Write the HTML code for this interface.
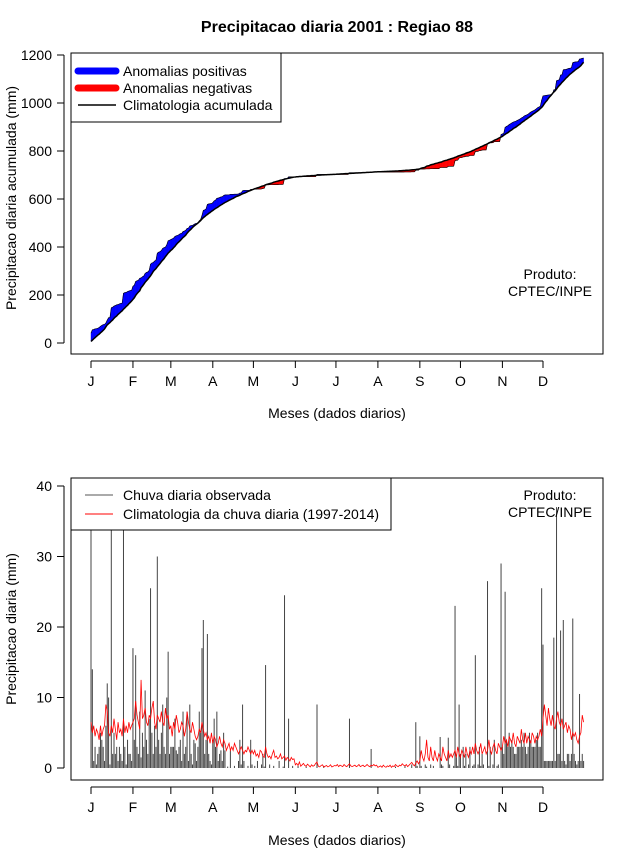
<!DOCTYPE html>
<html><head><meta charset="utf-8"><style>
html,body{margin:0;padding:0;background:#fff;}
svg{display:block;font-family:"Liberation Sans",Arial,sans-serif;}
</style></head><body>
<svg id="svg" width="640" height="850" viewBox="0 0 640 850" xmlns="http://www.w3.org/2000/svg">
<defs>
<clipPath id="clipTop"><rect x="71" y="53" width="532" height="301"/></clipPath>
<clipPath id="clipBot"><rect x="71" y="478" width="532" height="302"/></clipPath>
</defs>
<text x="337" y="32" text-anchor="middle" font-size="16" font-weight="bold">Precipitacao diaria 2001 : Regiao 88</text>

<g id="top">
<rect x="71" y="53" width="532" height="301" fill="none" stroke="#000"/>
<g id="topMarks" clip-path="url(#clipTop)"></g>
<g id="topYAxis"></g>
<g id="topXAxis"></g>
<text x="337" y="418" text-anchor="middle" font-size="14">Meses (dados diarios)</text>
<text transform="translate(16,198) rotate(-90)" text-anchor="middle" font-size="14">Precipitacao diaria acumulada (mm)</text>
<g>
<rect x="71" y="53" width="210" height="69" fill="#fff" stroke="#000"/>
<line x1="78" y1="71" x2="116" y2="71" stroke="#0000ff" stroke-width="7" stroke-linecap="round"/>
<text x="123" y="76" font-size="14">Anomalias positivas</text>
<line x1="78" y1="88" x2="116" y2="88" stroke="#ff0000" stroke-width="7" stroke-linecap="round"/>
<text x="123" y="93" font-size="14">Anomalias negativas</text>
<line x1="78" y1="105" x2="116" y2="105" stroke="#000" stroke-width="1.5"/>
<text x="123" y="110" font-size="14">Climatologia acumulada</text>
</g>
<text x="550" y="279" text-anchor="middle" font-size="14">Produto:</text>
<text x="550" y="296" text-anchor="middle" font-size="14">CPTEC/INPE</text>
</g>

<g id="bot">
<g id="botMarks" clip-path="url(#clipBot)"></g>
<rect x="71" y="478" width="532" height="302" fill="none" stroke="#000"/>
<g id="botYAxis"></g>
<g id="botXAxis"></g>
<text x="337" y="845" text-anchor="middle" font-size="14">Meses (dados diarios)</text>
<text transform="translate(16,629) rotate(-90)" text-anchor="middle" font-size="14">Precipitacao diaria (mm)</text>
<g>
<rect x="71" y="478" width="320" height="52" fill="#fff" stroke="#000"/>
<line x1="85" y1="495" x2="113" y2="495" stroke="#555" stroke-width="1"/>
<text x="123" y="500" font-size="14">Chuva diaria observada</text>
<line x1="85" y1="514" x2="113" y2="514" stroke="#ff0000" stroke-width="1"/>
<text x="123" y="519" font-size="14">Climatologia da chuva diaria (1997-2014)</text>
</g>
<text x="550" y="500" text-anchor="middle" font-size="14">Produto:</text>
<text x="550" y="517" text-anchor="middle" font-size="14">CPTEC/INPE</text>
</g>
</svg>
<script>
const monthLabels = ["J","F","M","A","M","J","J","A","S","O","N","D"];
const monthStartDays = [1,32,60,91,121,152,182,213,244,274,305,335];
const topYTicks = [0,200,400,600,800,1000,1200];
const botYTicks = [0,10,20,30,40];

const obsJan = [41,14,1,3,0.5,2,3,5,4,3,1,6,12,10,0.5,41,2,5,2,3,1,3,2,1,41,3,0.5,4,2,2,1];
const obsFeb = [17,4,16,3,2,8,1.5,5,3,11,4,2,7,25.5,5,2,6,3,30,4,2,5,9,3,2,10,16.5,2];
const obsMar = [3,3,3,7,2.5,2,3,4,1,8,2,3,8,1,9,2,0.5,4,3.5,1,3,8,5,17,21,2,4,19,2,1,0.5];
const obsApr = [4,7,3,8,1,2,2.5,1,5,2.5,0,0.2,0,2.5,0,0,0.3,0,0,1,4,0.5,9,1,0,0,0.3,0,4,0.5];
const obsMay = [0,0.3,0,1,0,0,0.5,2,0.2,14.6,0,0,0.5,0,0,0.3,0,0,0,1,0,0,0.2,24.5,0,0,7,0,0,0.3,0];
const obsJun = [0,0,0.3,0,0,0,0,0,0.2,0,0,0,0,0,0,0,9,0,0,0,0,0.3,0,0,0,0,0,0,0,0];
const obsJul = [0,0,0,0,0,0,0,0,0,0,7,0,0,0,0,0,0,0,0,0,0,0,0,0,0,0,2.7,0,0,0,0];
const obsAug = [0,0,0,0,0,0,0,0,0,0,0,0,0,0.2,0,0,0,0,0,0,0.3,0,0,0,0,0.5,0,0,6.5,0.3,0];
const obsSep = [4.5,0.3,0,0,0.5,0.2,0,0,0.5,0,0.3,0,0,0,0,4.4,0.5,0.3,0,0,0,4.3,0.5,0,0,0.3,23,1.5,0.3,9];
const obsOct = [2,0,3,0.3,2,0,0.5,3,0,0.3,0.5,16,0,0.5,3,0.3,2,0.5,0,0,26.5,0.3,3,0,0.5,4,0,0.3,0.5,0,29];
const obsNov = [3,2,25,4,3,5,3,4,3,2,2,3,3,3,4,3,5,3,2,3,5,4,3,3,3,4,5,3,3,25.5];
const obsDec = [17.5,1,1,1,1,1,1,1,18.5,1,37,2,2,19.5,1,21,1,0.5,2,2,1,2,21.2,2,1,0.5,1,10.5,1,2,1];

const climJan = [6.5,5,6,4.5,5.5,5,4,6,4.5,5.5,6,9,8,5,4.5,6,5,7,5.5,4,6.5,5,5.5,4.5,7,5,6,5,6.5,5.5,6];
const climFeb = [6.5,7,9.5,7.5,6.5,5.5,12.5,7,7.5,8.5,6.5,6,7.5,7,8.5,9.5,6.5,5.5,7.5,7,6.5,8,6.5,6,8.5,7,7.5,5.5];
const climMar = [6,4.5,6.5,5.5,7.5,6.5,5,5.5,6.5,6,4.5,5.5,8,6.5,5.5,5,6.5,5.5,4.5,4,4.5,5.5,5,6.5,5.5,4.5,5,4,4.5,3.5,5];
const climApr = [3.5,4.5,4,3,3.5,4.5,3.5,3,4,3.5,2.5,3,3.5,2.5,3,2.5,3.5,3,2.5,2,2.5,3,2.5,2,2.5,2.3,3,2.5,2,2.5];
const climMay = [2,2.5,1.7,2,1.5,2.5,2.3,1.7,1.5,3,2,1.5,1.7,1.3,2,2.5,1.5,1.7,1.3,1.5,2,1.3,1.5,1.7,1.1,1.5,1.3,1,1.5,1.2,1.3];
const climJun = [0.45,0.65,0.35,0.85,0.25,0.45,0.65,0.35,0.25,0.55,0.35,0.15,0.45,0.25,0.35,0.65,0.85,0.25,0.15,0.35,0.45,0.15,0.25,0.35,0.15,0.25,0.45,0.15,0.25,0.35];
const climJul = [0.3,0.5,0.2,0.4,0.3,0.2,0.5,0.3,0.2,0.4,0.6,0.3,0.2,0.3,0.4,0.2,0.3,0.5,0.2,0.3,0.4,0.2,0.3,0.5,0.3,0.2,0.4,0.3,0.5,0.3,0.4];
const climAug = [0.1,0.2,0.3,0.1,0.4,0.2,0.1,0.3,0.2,0.4,0.1,0.3,0.2,0.5,0.3,0.2,0.4,0.3,0.6,0.4,0.3,0.5,0.2,0.4,0.6,0.8,0.5,0.3,0.7,1,0.6];
const climSep = [1,2.5,1.5,1,2,4,1.5,1,3,1.5,1,2.5,1.5,1,2,1.5,1,3,2,1.5,1,2.5,1.5,2,1.5,2,2.5,1.5,3,2];
const climOct = [1.5,2.5,2,1.5,3,2,1.5,2.5,2,3,2,3.5,2.5,2,2.5,3.5,2,2.5,3,2,2.5,4,2.5,2,3,3.5,2.5,2,3.5,3,2.5];
const climNov = [3,4.5,3.5,4,3,4.5,4,3.5,5,3.5,3,4.5,4,3.5,5.5,4,3.5,5,3.5,4.5,4,3.5,5,4.5,3.5,4.5,4,4.5,5.5,4.5];
const climDec = [7,9,7.5,6,8.5,7,6,7.5,6,5.5,7,8,6.5,6,7,5.5,6,6.5,5,6,5.5,4,5,4.5,5,4,3.5,4.5,5,7.5,6.5];

const obs = [].concat(obsJan,obsFeb,obsMar,obsApr,obsMay,obsJun,obsJul,obsAug,obsSep,obsOct,obsNov,obsDec);
const clim = [].concat(climJan,climFeb,climMar,climApr,climMay,climJun,climJul,climAug,climSep,climOct,climNov,climDec);

const NS = "http://www.w3.org/2000/svg";
function mk(tag, attrs, parent){const e=document.createElementNS(NS,tag);for(const k in attrs)e.setAttribute(k,attrs[k]);parent.appendChild(e);return e;}
function xDay(d){return 91 + (d-1)*(543-91)/334;}
function yTop(v){return 343 - v*(343-55)/1200;}
function yBot(v){return 768 - v*(768-486)/40;}

const cumObs=[], cumClim=[];
let so=0, sc=0;
for(let i=0;i<obs.length;i++){so+=obs[i];sc+=clim[i];cumObs.push(so);cumClim.push(sc);}

const tm=document.getElementById('topMarks');
for(let i=0;i<cumObs.length-1;i++){
  const d0=i+1,d1=i+2;
  const diff=(cumObs[i]-cumClim[i])+(cumObs[i+1]-cumClim[i+1]);
  const col=diff>=0?'#0000ff':'#ff0000';
  const p=mk('polygon',{points:`${xDay(d0)},${yTop(cumObs[i])} ${xDay(d1)},${yTop(cumObs[i+1])} ${xDay(d1)},${yTop(cumClim[i+1])} ${xDay(d0)},${yTop(cumClim[i])}`,fill:col,stroke:col,'stroke-width':0.4},tm);
  
  
}
let po='',pc='';
for(let i=0;i<cumObs.length;i++){po+=`${xDay(i+1)},${yTop(cumObs[i])} `;pc+=`${xDay(i+1)},${yTop(cumClim[i])} `;}
const lo=mk('polyline',{points:po,fill:'none',stroke:'#000','stroke-width':0.6},tm);


const lc=mk('polyline',{points:pc,fill:'none',stroke:'#000','stroke-width':1.5},tm);



function yAxis(g,ticks,yf,x){
  mk('line',{x1:x,y1:yf(ticks[0]),x2:x,y2:yf(ticks[ticks.length-1]),stroke:'#000'},g);
  ticks.forEach(t=>{
    mk('line',{x1:x-7,y1:yf(t),x2:x,y2:yf(t),stroke:'#000'},g);
    const tx=mk('text',{x:x-12,y:yf(t)+5,'text-anchor':'end','font-size':14},g);
    tx.textContent=t;
    
    
  });
}
function xAxis(g,y,ly){
  mk('line',{x1:xDay(monthStartDays[0]),y1:y,x2:xDay(monthStartDays[11]),y2:y,stroke:'#000'},g);
  monthStartDays.forEach((d,i)=>{
    mk('line',{x1:xDay(d),y1:y,x2:xDay(d),y2:y+7,stroke:'#000'},g);
    const tx=mk('text',{x:xDay(d),y:ly,'text-anchor':'middle','font-size':14},g);
    tx.textContent=monthLabels[i];
    
    
  });
}
yAxis(document.getElementById('topYAxis'),topYTicks,yTop,64);
xAxis(document.getElementById('topXAxis'),361,386);
yAxis(document.getElementById('botYAxis'),botYTicks,yBot,64);
xAxis(document.getElementById('botXAxis'),787,812);

const bm=document.getElementById('botMarks');
obs.forEach((v,i)=>{
  const b=mk('line',{x1:xDay(i+1),y1:yBot(0),x2:xDay(i+1),y2:yBot(v),stroke:'#444','stroke-width':1},bm);
  
  
});
let pl='';
clim.forEach((v,i)=>{pl+=`${xDay(i+1)},${yBot(v)} `;});
const cl=mk('polyline',{points:pl,fill:'none',stroke:'#ff0000','stroke-width':0.8},bm);


</script>
</body></html>
